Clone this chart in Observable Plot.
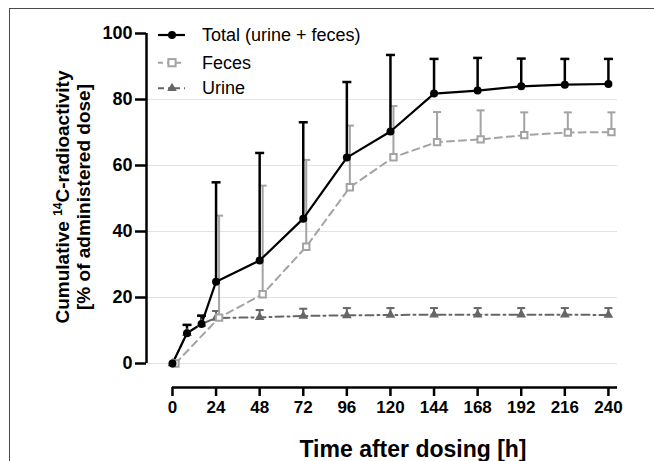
<!DOCTYPE html>
<html>
<head>
<meta charset="utf-8">
<script src="https://cdn.jsdelivr.net/npm/d3@7"></script>
<script src="https://cdn.jsdelivr.net/npm/@observablehq/plot@0.6"></script>
<style>
  body { margin: 0; background: #fff; }
  #wrap { position: relative; width: 654px; height: 461px; overflow: hidden; background: #fff;
          font-family: "Liberation Sans", Arial, sans-serif; color: #000; }
  #wrap svg.plot { position: absolute; left: 0; top: 0; }
  .bt { position: absolute; left: 9px; top: 8px; right: 0; border-top: 1px solid #4a4a4a; }
  .bl { position: absolute; left: 9px; top: 8px; bottom: 0; border-left: 1px solid #4a4a4a; }
  .xtitle { position: absolute; left: 413px; top: 449px; transform: translate(-50%, -50%);
            white-space: nowrap; font-weight: bold; font-size: 23px; }
  .ytitle { position: absolute; left: 73px; top: 197px; transform: translate(-50%, -50%) rotate(-90deg);
            white-space: nowrap; font-weight: bold; font-size: 19px; line-height: 21px; text-align: center; }
  .ytitle sup { font-size: 12px; vertical-align: 7px; line-height: 0; }
  .leg { position: absolute; left: 202px; white-space: nowrap; font-size: 18px; transform: translateY(-50%); }
  #legsym { position: absolute; left: 150px; top: 20px; }
</style>
</head>
<body>
<div id="wrap">
  <div class="bt"></div>
  <div class="bl"></div>
</div>
<script>
// ---- data ----
const timeAll   = [0, 8, 16, 24, 48, 72, 96, 120, 144, 168, 192, 216, 240];
const totalVal  = [0, 9.2, 12.0, 24.8, 31.2, 43.9, 62.4, 70.3, 81.8, 82.7, 84.0, 84.5, 84.7];
const totalUp   = [null, 11.7, 14.5, 54.9, 63.8, 73.1, 85.3, 93.5, 92.3, 92.6, 92.4, 92.3, 92.3];

const timeFeces = [0, 24, 48, 72, 96, 120, 144, 168, 192, 216, 240];
const fecesVal  = [0, 13.9, 21.0, 35.4, 53.4, 62.5, 67.1, 67.9, 69.2, 70.0, 70.1];
const fecesUp   = [null, 44.8, 53.9, 61.7, 72.1, 78.0, 76.2, 76.7, 76.1, 76.1, 76.1];

const urineVal  = [0, 9.2, 12.0, 13.8, 14.0, 14.4, 14.6, 14.7, 14.8, 14.8, 14.8, 14.8, 14.7];
const urineUp   = [null, 11.7, 14.5, 15.9, 16.2, 16.6, 16.8, 16.8, 16.8, 16.8, 16.8, 16.8, 16.8];

const xTicks = [0, 24, 48, 72, 96, 120, 144, 168, 192, 216, 240];
const yTicks = [0, 20, 40, 60, 80, 100];
const gridTicks = [0, 20, 40, 60, 80];
const legendLabels = ["Total (urine + feces)", "Feces", "Urine"];
const xLabel = "Time after dosing [h]";

// ---- axis geometry (Prism-style offset axes) ----
const xDomain = [-14.3, 245];
const yDomain = [-7.27, 100];
const xAxisEnd = 245;

const rows = (t, v, u) => t.map((x, i) => ({x, y: v[i], u: u[i]}));
const total = rows(timeAll, totalVal, totalUp);
const feces = rows(timeFeces, fecesVal, fecesUp);
const urine = rows(timeAll, urineVal, urineUp);
const withUp = d => d.filter(r => r.u != null);

const capSymbol = { draw(ctx, size) { const r = Math.sqrt(size / Math.PI); ctx.moveTo(-r, 0); ctx.lineTo(r, 0); } };

const cBlack = "#000", cFeces = "#a3a3a3", cUrine = "#666666";

const plot = Plot.plot({
  width: 654, height: 461,
  marginLeft: 146, marginRight: 37, marginTop: 33, marginBottom: 74,
  style: { fontFamily: "Liberation Sans, Arial, sans-serif", background: "transparent", overflow: "visible" },
  x: { domain: xDomain },
  y: { domain: yDomain },
  marks: [
    Plot.gridY(gridTicks, { stroke: "#e2e2e2", strokeOpacity: 1, strokeWidth: 1 }),
    // axis lines
    Plot.ruleX([xDomain[0]], { y1: 0, y2: yTicks[yTicks.length - 1], stroke: cBlack, strokeWidth: 2.5 }),
    Plot.ruleY([yDomain[0]], { x1: 0, x2: xAxisEnd, stroke: cBlack, strokeWidth: 2.5 }),
    Plot.axisY(yTicks, { anchor: "left", tickSize: 11, tickPadding: 3, strokeWidth: 2.5, fontSize: 18, fontWeight: "bold", label: null }),
    Plot.axisX(xTicks, { anchor: "bottom", tickSize: 9, tickPadding: 4, strokeWidth: 2.5, fontSize: 17, fontWeight: "bold", label: null }),
    // urine
    Plot.ruleX(withUp(urine), { x: "x", y1: "y", y2: "u", stroke: cUrine, strokeWidth: 2 }),
    Plot.dot(withUp(urine), { x: "x", y: "u", symbol: capSymbol, r: 4, stroke: cUrine, strokeWidth: 2 }),
    Plot.line(urine, { x: "x", y: "y", stroke: cUrine, strokeWidth: 2, strokeDasharray: "8,4,2,4" }),
    // feces
    Plot.ruleX(withUp(feces), { x: "x", y1: "y", y2: "u", stroke: cFeces, strokeWidth: 2, dx: 3 }),
    Plot.dot(withUp(feces), { x: "x", y: "u", symbol: capSymbol, r: 4, stroke: cFeces, strokeWidth: 2, dx: 3 }),
    Plot.line(feces, { x: "x", y: "y", stroke: cFeces, strokeWidth: 2, strokeDasharray: "7,5", dx: 3 }),
    // total
    Plot.ruleX(withUp(total), { x: "x", y1: "y", y2: "u", stroke: cBlack, strokeWidth: 2.5 }),
    Plot.dot(withUp(total), { x: "x", y: "u", symbol: capSymbol, r: 4.5, stroke: cBlack, strokeWidth: 2.5 }),
    Plot.line(total, { x: "x", y: "y", stroke: cBlack, strokeWidth: 2.2 }),
    // symbols
    Plot.dot(urine, { x: "x", y: "y", symbol: "triangle", r: 3.6, fill: cUrine, stroke: "none" }),
    Plot.dot(feces, { x: "x", y: "y", symbol: "square", r: 3.6, fill: "#fff", stroke: cFeces, strokeWidth: 2, dx: 3 }),
    Plot.dot(total, { x: "x", y: "y", r: 4, fill: cBlack, stroke: "none" })
  ]
});
plot.classList.add("plot");
const wrap = document.getElementById("wrap");
wrap.appendChild(plot);

// ---- legend ----
const rowY = [15, 42.7, 68.3];
const ns = "http://www.w3.org/2000/svg";
const lsvg = document.createElementNS(ns, "svg");
lsvg.setAttribute("id", "legsym");
lsvg.setAttribute("width", 45); lsvg.setAttribute("height", 85);
lsvg.innerHTML = `
  <line x1="8" x2="35" y1="${rowY[0]}" y2="${rowY[0]}" stroke="${cBlack}" stroke-width="2.2"/>
  <circle cx="22" cy="${rowY[0]}" r="4" fill="${cBlack}"/>
  <line x1="8" x2="35" y1="${rowY[1]}" y2="${rowY[1]}" stroke="${cFeces}" stroke-width="2" stroke-dasharray="5,4"/>
  <rect x="18.4" y="${rowY[1] - 3.6}" width="7.2" height="7.2" fill="#fff" stroke="${cFeces}" stroke-width="2"/>
  <line x1="8" x2="35" y1="${rowY[2]}" y2="${rowY[2]}" stroke="${cUrine}" stroke-width="2" stroke-dasharray="6,4,2,4"/>
  <path d="${d3.symbol(d3.symbolTriangle, 40)()}" transform="translate(22,${rowY[2]})" fill="${cUrine}"/>
`;
wrap.appendChild(lsvg);
legendLabels.forEach((t, i) => {
  const d = document.createElement("div");
  d.className = "leg";
  d.style.top = (20 + rowY[i]) + "px";
  d.textContent = t;
  wrap.appendChild(d);
});

// ---- axis titles ----
const xt = document.createElement("div");
xt.className = "xtitle"; xt.textContent = xLabel;
wrap.appendChild(xt);
const yt = document.createElement("div");
yt.className = "ytitle";
yt.innerHTML = "Cumulative <sup>14</sup>C-radioactivity<br>[% of administered dose]";
wrap.appendChild(yt);
</script>
</body>
</html>
